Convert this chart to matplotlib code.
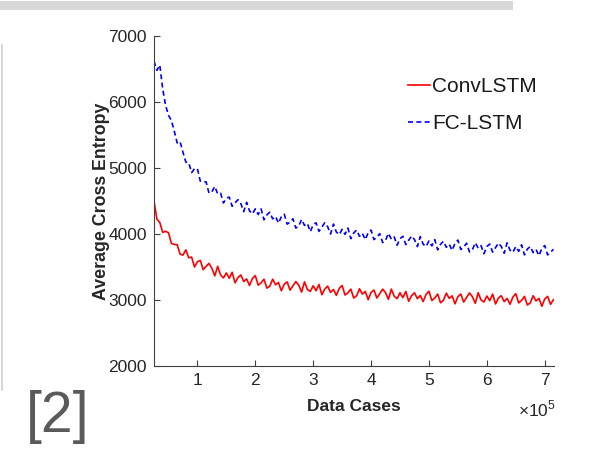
import numpy as np
import matplotlib
matplotlib.use("Agg")
import matplotlib.pyplot as plt
from matplotlib.patches import Rectangle
from matplotlib.lines import Line2D

plt.rcParams['font.family'] = ['Liberation Sans', 'DejaVu Sans']
plt.rcParams['mathtext.fontset'] = 'custom'
plt.rcParams['mathtext.rm'] = 'Liberation Sans'

# sample positions (data cases), step of 5000 from 25000
data_cases = np.arange(139) * 5000 + 25000

conv_lstm = [
    4500, 4225, 4175, 4025, 4040, 4020, 3860, 3840, 3840, 3695,
    3680, 3760, 3640, 3650, 3500, 3580, 3600, 3460, 3510, 3555,
    3480, 3365, 3510, 3380, 3335, 3410, 3330, 3420, 3260, 3340,
    3380, 3280, 3320, 3220, 3325, 3370, 3225, 3260, 3315, 3180,
    3210, 3315, 3230, 3265, 3140, 3240, 3275, 3150, 3215, 3280,
    3225, 3120, 3275, 3160, 3130, 3215, 3140, 3235, 3080, 3165,
    3210, 3115, 3160, 3070, 3175, 3220, 3075, 3110, 3165, 3030,
    3065, 3170, 3090, 3130, 3005, 3115, 3150, 3030, 3095, 3165,
    3110, 3010, 3165, 3055, 3020, 3110, 3035, 3130, 2980, 3065,
    3110, 3020, 3068, 2976, 3085, 3133, 2992, 3030, 3090, 2958,
    2996, 3105, 3024, 3063, 2942, 3051, 3090, 2969, 3038, 3107,
    3050, 2950, 3110, 3000, 2970, 3060, 2990, 3090, 2940, 3030,
    3065, 2975, 3025, 2935, 3045, 3095, 2955, 2995, 3055, 2925,
    2955, 3065, 2985, 3025, 2905, 3015, 3055, 2935, 3005,
]

fc_lstm = [
    6620, 6480, 6560, 6200, 5950, 5800, 5720, 5560, 5380, 5400,
    5240, 5090, 5080, 4930, 4990, 4990, 4800, 4790, 4790, 4620,
    4640, 4720, 4610, 4620, 4470, 4540, 4560, 4420, 4470, 4520,
    4460, 4340, 4480, 4350, 4305, 4380, 4295, 4380, 4215, 4290,
    4330, 4230, 4265, 4165, 4260, 4300, 4150, 4180, 4230, 4090,
    4120, 4220, 4130, 4160, 4035, 4140, 4170, 4040, 4105, 4170,
    4110, 4000, 4150, 4030, 3990, 4070, 3995, 4090, 3930, 4015,
    4060, 3965, 4010, 3915, 4020, 4060, 3915, 3950, 4005, 3870,
    3905, 4010, 3920, 3955, 3830, 3930, 3965, 3840, 3905, 3970,
    3915, 3810, 3960, 3845, 3810, 3895, 3820, 3915, 3760, 3845,
    3890, 3798, 3845, 3752, 3860, 3908, 3765, 3802, 3860, 3728,
    3760, 3868, 3786, 3824, 3702, 3810, 3848, 3726, 3794, 3862,
    3810, 3708, 3866, 3754, 3722, 3810, 3738, 3836, 3684, 3772,
    3810, 3718, 3765, 3672, 3780, 3825, 3683, 3720, 3770,
]

labels = ["ConvLSTM", "FC-LSTM"]
y_ticks = [2000, 3000, 4000, 5000, 6000, 7000]
x_ticks = [100000, 200000, 300000, 400000, 500000, 600000, 700000]
x_tick_labels = ["1", "2", "3", "4", "5", "6", "7"]

fig = plt.figure(figsize=(6.06, 4.53), dpi=100)
fig.patch.set_facecolor('white')

# slide decorations
fig.patches.append(Rectangle((0, 1 - 10/453), 513/606, 9/453, transform=fig.transFigure,
                             facecolor='#d9d9d9', edgecolor='none'))
fig.lines.append(Line2D([1.5/606, 1.5/606], [1 - 45/453, 1 - 390/453], transform=fig.transFigure,
                        color='#d0d0d0', lw=1.2))
fig.text(26/606, 1 - 432/453, "[2]", fontsize=41, color='#5a5a5a', ha='left', va='baseline')

ax = fig.add_axes([154/606, 1 - 366/453, 400/606, 330/453])
ax.plot(data_cases, conv_lstm, color=(1, 0, 0), lw=1.2, label=labels[0])
ax.plot(data_cases, fc_lstm, color=(0, 0, 1), lw=1.2, ls=(0, (3, 2)), label=labels[1])

ax.set_xlim(25000, 716000)
ax.set_ylim(2000, 7000)
ax.set_yticks(y_ticks)
ax.set_xticks(x_ticks)
ax.set_xticklabels(x_tick_labels)

for s in ['top', 'right']:
    ax.spines[s].set_visible(False)
for s in ['left', 'bottom']:
    ax.spines[s].set_color('#404040')
    ax.spines[s].set_linewidth(0.8)
ax.tick_params(direction='in', length=4, width=0.8, color='#404040',
               labelsize=12.5, labelcolor='#262626', pad=5)

fig.text(556/606, 1 - 416/453, r"$\times10^5$", fontsize=12.5, color='#262626',
         ha='right', va='baseline')

ax.set_xlabel("Data Cases", fontsize=12.5, fontweight='bold', color='#262626', labelpad=8)
ax.set_ylabel("Average Cross Entropy", fontsize=12.8, fontweight='bold', color='#262626', labelpad=-1)

leg = ax.legend(loc='upper left', bbox_to_anchor=(0.615, 0.90), frameon=False,
                fontsize=15, handlelength=1.05, handletextpad=0.1, labelspacing=0.85,
                borderaxespad=0)
for t in leg.get_texts():
    t.set_color('#1a1a1a')

fig.savefig("out.png", dpi=100)
